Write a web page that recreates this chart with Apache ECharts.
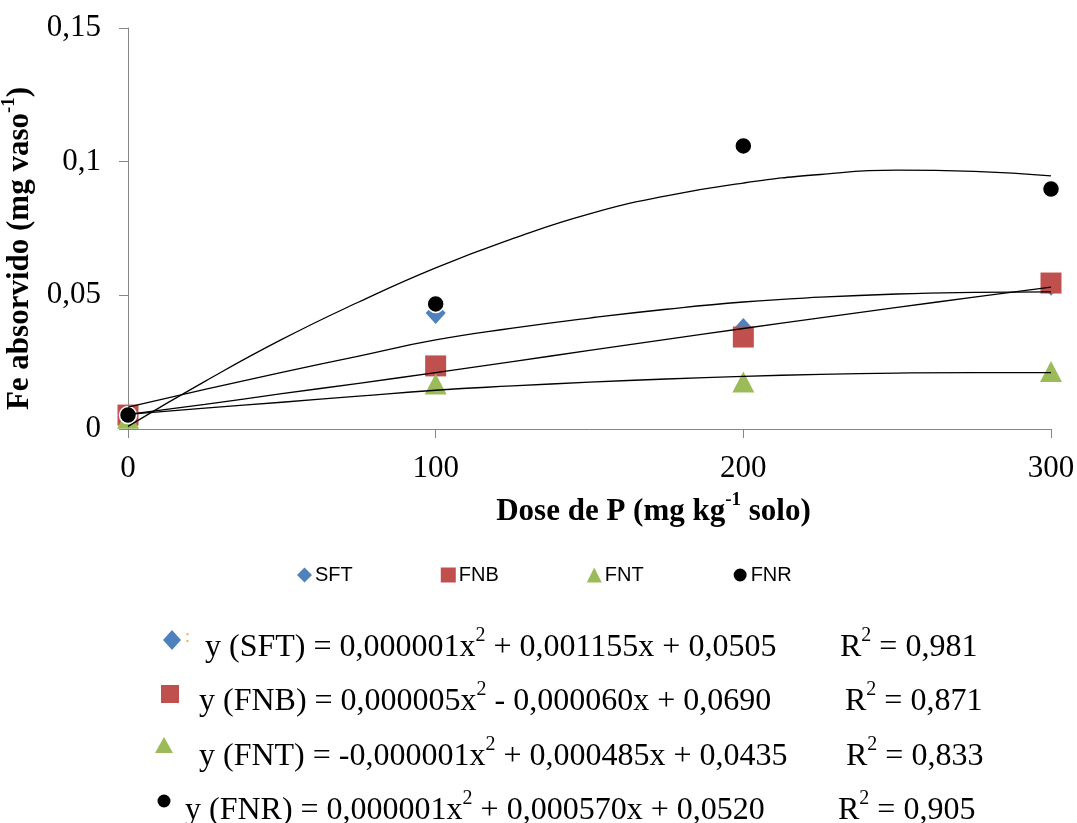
<!DOCTYPE html>
<html>
<head>
<meta charset="utf-8">
<script src="https://cdn.jsdelivr.net/npm/echarts@6/dist/echarts.min.js"></script>
<style>
html,body{margin:0;padding:0;background:#fff;}
#c{width:1077px;height:823px;}
</style>
</head>
<body>
<div id="c"></div>
<script>
// ---- data ----
const doses = [0, 100, 200, 300];
const sft = [0.005, 0.0434, 0.0374, 0.054];
const fnb = [0.0052, 0.0236, 0.0344, 0.0546];
const fnt = [0.004, 0.0168, 0.0176, 0.0215];
const fnr = [0.0052, 0.0468, 0.1059, 0.0898];

// fitted trend curves as drawn in the reference (x, y)
const trendX = [0, 25, 50, 75, 100, 125, 150, 175, 200, 225, 250, 275, 300];
const trendSFT = [0.0082, 0.0148, 0.0212, 0.0273, 0.0333, 0.0377, 0.0415, 0.0448, 0.0475, 0.0493, 0.0505, 0.0511, 0.0513];
const trendFNB = [0.0055, 0.0092, 0.0132, 0.0171, 0.0211, 0.0252, 0.0294, 0.0335, 0.0376, 0.0416, 0.0455, 0.0493, 0.0531];
const trendFNT = [0.0055, 0.0078, 0.0100, 0.0123, 0.0145, 0.0161, 0.0175, 0.0187, 0.0197, 0.0204, 0.0209, 0.0211, 0.0211];
const trendFNR = [0.001, 0.0178, 0.0335, 0.0475, 0.0603, 0.0712, 0.0805, 0.0872, 0.0920, 0.0952, 0.0968, 0.0964, 0.0947];

const yTicks = [0, 0.05, 0.1, 0.15];
const yTickLabels = ['0', '0,05', '0,1', '0,15'];
const xTicks = [0, 100, 200, 300];
const xTickLabels = ['0', '100', '200', '300'];

const seriesNames = ['SFT', 'FNB', 'FNT', 'FNR'];
const equations = [
  ['y (SFT) = 0,000001x', ' + 0,001155x + 0,0505', '0,981'],
  ['y (FNB) = 0,000005x', ' - 0,000060x + 0,0690', '0,871'],
  ['y (FNT) = -0,000001x', ' + 0,000485x + 0,0435', '0,833'],
  ['y (FNR) = 0,000001x', ' + 0,000570x + 0,0520', '0,905']
];

// ---- styles ----
const colors = ['#4F81BD', '#C0504D', '#9BBB59', '#000000'];
const symbols = ['diamond', 'rect', 'triangle', 'circle'];
const sizes = [[20, 22], 21, [22, 21], 17];
const serif = '"Liberation Serif", "Times New Roman", serif';

function pairs(xs, ys) { return xs.map((x, i) => [x, ys[i]]); }

const pointSeries = [sft, fnb, fnt, fnr].map((vals, i) => ({
  name: seriesNames[i],
  type: 'scatter',
  data: pairs(doses, vals),
  symbol: symbols[i],
  symbolSize: sizes[i],
  itemStyle: i === 3
    ? { color: colors[i], borderColor: '#fff', borderWidth: 1.5, opacity: 1 }
    : { color: colors[i], opacity: 1 },
  z: 2 + i
}));

const trendSeries = [trendSFT, trendFNB, trendFNT, trendFNR].map((vals, i) => ({
  name: 'trend ' + seriesNames[i],
  type: 'line',
  data: pairs(trendX, vals),
  smooth: true,
  showSymbol: false,
  symbol: 'none',
  lineStyle: { color: '#000', width: 1.3 },
  z: 10
}));

// equation block graphics
const eqY = [647, 701, 756, 810];
const eqX = [205, 199, 199, 185];
const r2X = [840, 845, 846, 838];
const graphics = [];
const supRich = {
  n: { fontFamily: serif, fontSize: 32, color: '#000' },
  s: { fontFamily: serif, fontSize: 20, color: '#000', padding: [0, 0, 24, 0] }
};
equations.forEach((eq, i) => {
  graphics.push({
    type: 'text', left: eqX[i], top: eqY[i] - 21,
    style: { text: '{n|' + eq[0] + '}{s|2}{n|' + eq[1] + '}', rich: supRich, textVerticalAlign: 'top' }
  });
  graphics.push({
    type: 'text', left: r2X[i], top: eqY[i] - 21,
    style: { text: '{n|R}{s|2}{n| = ' + eq[2] + '}', rich: supRich, textVerticalAlign: 'top' }
  });
});
// equation markers
graphics.push({ type: 'polygon', shape: { points: [[172, 630], [181, 640], [172, 650], [163, 640]] }, style: { fill: colors[0] } });
graphics.push({ type: 'text', left: 185, top: 628, style: { text: ':', fontSize: 18, fontFamily: serif, fill: '#F9A94B' } });
graphics.push({ type: 'rect', shape: { x: 161, y: 685, width: 18, height: 18 }, style: { fill: colors[1] } });
graphics.push({ type: 'polygon', shape: { points: [[164, 737], [173, 753], [155, 753]] }, style: { fill: colors[2] } });
graphics.push({ type: 'circle', shape: { cx: 164, cy: 801, r: 6.5 }, style: { fill: colors[3] } });

const option = {
  animation: false,
  backgroundColor: '#fff',
  grid: { left: 128, right: 26, top: 28, bottom: 394, containLabel: false, outerBoundsMode: 'none' },
  legend: {
    data: seriesNames.map((n, i) => ({ name: n, icon: symbols[i] })),
    left: 292, top: 560,
    itemWidth: 15, itemHeight: 15, itemGap: 88,
    textStyle: { fontFamily: '"Liberation Sans", Arial, sans-serif', fontSize: 20, color: '#000', padding: [0, 0, 0, -2] }
  },
  xAxis: {
    type: 'value', min: 0, max: 300, interval: 100,
    axisLine: { show: true, lineStyle: { color: '#868686', width: 1 } },
    axisTick: { show: true, length: 9, inside: false, lineStyle: { color: '#868686' } },
    splitLine: { show: false },
    axisLabel: {
      margin: 24, color: '#000', fontFamily: serif, fontSize: 31,
      formatter: v => xTickLabels[xTicks.indexOf(v)]
    },
    name: '{b|Dose de P (mg kg}{sup|-1}{b| solo)}',
    nameLocation: 'middle', nameGap: 62,
    nameTextStyle: {
      padding: [0, 0, 0, 128],
      rich: {
        b: { fontFamily: serif, fontSize: 31, fontWeight: 'bold', color: '#000' },
        sup: { fontFamily: serif, fontSize: 19, fontWeight: 'bold', color: '#000', padding: [0, 0, 22, 0] }
      }
    }
  },
  yAxis: {
    type: 'value', min: 0, max: 0.15, interval: 0.05,
    axisLine: { show: true, lineStyle: { color: '#868686', width: 1 } },
    axisTick: { show: true, length: 9, inside: false, lineStyle: { color: '#868686' } },
    splitLine: { show: false },
    axisLabel: {
      margin: 27, color: '#000', fontFamily: serif, fontSize: 31,
      formatter: v => { const k = yTicks.findIndex(t => Math.abs(t - v) < 1e-9); return k >= 0 ? yTickLabels[k] : ''; }
    },
    name: '{b|Fe absorvido (mg vaso}{sup|-1}{b|)}',
    nameLocation: 'middle', nameGap: 73, nameRotate: 90,
    nameTextStyle: {
      padding: [0, 40, 0, 0],
      rich: {
        b: { fontFamily: serif, fontSize: 31, fontWeight: 'bold', color: '#000' },
        sup: { fontFamily: serif, fontSize: 19, fontWeight: 'bold', color: '#000', padding: [0, 0, 22, 0] }
      }
    }
  },
  series: pointSeries.concat(trendSeries),
  graphic: graphics
};

const chart = echarts.init(document.getElementById('c'), null, { renderer: 'canvas' });
chart.setOption(option);
</script>
</body>
</html>
